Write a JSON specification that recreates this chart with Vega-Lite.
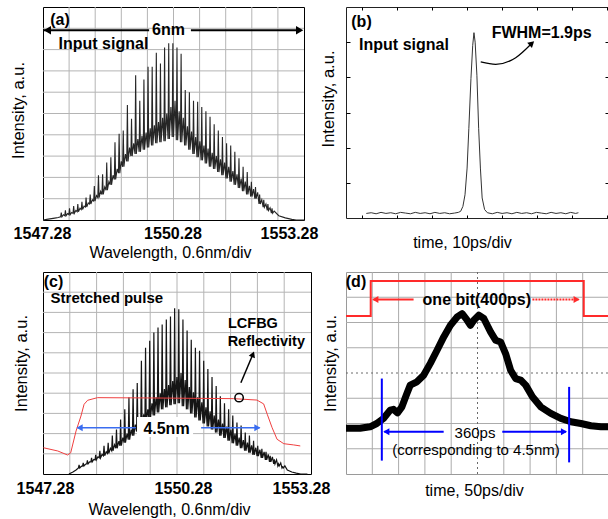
{
"$schema": "https://vega.github.io/schema/vega-lite/v6.json",
"background": "white",
"padding": {"left": 9, "top": 6, "right": 0, "bottom": 0},
"autosize": {"type": "pad"},
"config": {"font": "Liberation Sans", "view": {"stroke": null}, "axis": {"labelFont": "Liberation Sans", "titleFont": "Liberation Sans", "labelColor": "black", "titleColor": "black"}},
"datasets": {
"sa": [
{"x":1547.28,"y":0},{"x":1547.4,"y":0.04},{"x":1547.55,"y":0.09},{"x":1547.63,"y":0.12},
{"x":1547.685,"y":0.15},{"x":1547.7,"y":0.35},{"x":1547.715,"y":0.15},{"x":1547.75,"y":0.25},
{"x":1547.78,"y":0.2},{"x":1547.795,"y":0.45},{"x":1547.81,"y":0.2},{"x":1547.845,"y":0.3},
{"x":1547.875,"y":0.25},{"x":1547.89,"y":0.55},{"x":1547.905,"y":0.25},{"x":1547.94,"y":0.35},
{"x":1547.97,"y":0.31},{"x":1547.985,"y":0.65},{"x":1548.0,"y":0.31},{"x":1548.035,"y":0.45},
{"x":1548.065,"y":0.39},{"x":1548.08,"y":0.75},{"x":1548.095,"y":0.39},{"x":1548.13,"y":0.55},
{"x":1548.16,"y":0.49},{"x":1548.175,"y":0.85},{"x":1548.19,"y":0.49},{"x":1548.225,"y":0.65},
{"x":1548.255,"y":0.61},{"x":1548.27,"y":1.05},{"x":1548.285,"y":0.61},{"x":1548.32,"y":0.8},
{"x":1548.35,"y":0.75},{"x":1548.365,"y":1.2},{"x":1548.38,"y":0.75},{"x":1548.415,"y":0.95},
{"x":1548.445,"y":0.89},{"x":1548.46,"y":1.6},{"x":1548.475,"y":0.89},{"x":1548.51,"y":1.15},
{"x":1548.54,"y":1.05},{"x":1548.555,"y":2.1},{"x":1548.57,"y":1.05},{"x":1548.605,"y":1.35},
{"x":1548.635,"y":1.2},{"x":1548.65,"y":2.15},{"x":1548.665,"y":1.2},{"x":1548.7,"y":1.55},
{"x":1548.73,"y":1.4},{"x":1548.745,"y":2.7},{"x":1548.76,"y":1.4},{"x":1548.795,"y":1.8},
{"x":1548.825,"y":1.65},{"x":1548.84,"y":2.95},{"x":1548.855,"y":1.65},{"x":1548.89,"y":2.1},
{"x":1548.92,"y":1.9},{"x":1548.935,"y":3.65},{"x":1548.95,"y":1.9},{"x":1548.985,"y":2.4},
{"x":1549.015,"y":2.2},{"x":1549.03,"y":4.05},{"x":1549.045,"y":2.2},{"x":1549.08,"y":2.75},
{"x":1549.11,"y":2.5},{"x":1549.125,"y":4.2},{"x":1549.14,"y":2.5},{"x":1549.175,"y":3.1},
{"x":1549.205,"y":2.75},{"x":1549.22,"y":5.4},{"x":1549.235,"y":2.75},{"x":1549.27,"y":3.4},
{"x":1549.3,"y":3.0},{"x":1549.315,"y":4.75},{"x":1549.33,"y":3.0},{"x":1549.365,"y":3.6},
{"x":1549.395,"y":3.1},{"x":1549.41,"y":6.8},{"x":1549.425,"y":3.1},{"x":1549.46,"y":3.8},
{"x":1549.49,"y":3.2},{"x":1549.505,"y":5.6},{"x":1549.52,"y":3.2},{"x":1549.555,"y":3.95},
{"x":1549.585,"y":3.3},{"x":1549.6,"y":6.6},{"x":1549.615,"y":3.3},{"x":1549.65,"y":4.1},
{"x":1549.68,"y":3.4},{"x":1549.695,"y":7.2},{"x":1549.71,"y":3.4},{"x":1549.745,"y":4.3},
{"x":1549.775,"y":3.5},{"x":1549.79,"y":7.2},{"x":1549.805,"y":3.5},{"x":1549.84,"y":4.45},
{"x":1549.87,"y":3.6},{"x":1549.885,"y":7.85},{"x":1549.9,"y":3.6},{"x":1549.935,"y":4.6},
{"x":1549.965,"y":3.65},{"x":1549.98,"y":7.35},{"x":1549.995,"y":3.65},{"x":1550.03,"y":4.8},
{"x":1550.06,"y":3.7},{"x":1550.075,"y":8.1},{"x":1550.09,"y":3.7},{"x":1550.125,"y":5.0},
{"x":1550.155,"y":3.8},{"x":1550.17,"y":8.3},{"x":1550.185,"y":3.8},{"x":1550.22,"y":5.3},
{"x":1550.25,"y":3.9},{"x":1550.265,"y":8.3},{"x":1550.28,"y":3.9},{"x":1550.315,"y":5.6},
{"x":1550.345,"y":3.75},{"x":1550.36,"y":8.1},{"x":1550.375,"y":3.75},{"x":1550.41,"y":5.1},
{"x":1550.44,"y":3.65},{"x":1550.455,"y":7.8},{"x":1550.47,"y":3.65},{"x":1550.505,"y":4.8},
{"x":1550.535,"y":3.5},{"x":1550.55,"y":6.1},{"x":1550.565,"y":3.5},{"x":1550.6,"y":4.4},
{"x":1550.63,"y":3.3},{"x":1550.645,"y":6.0},{"x":1550.66,"y":3.3},{"x":1550.695,"y":4.15},
{"x":1550.725,"y":3.1},{"x":1550.74,"y":5.6},{"x":1550.755,"y":3.1},{"x":1550.79,"y":3.9},
{"x":1550.82,"y":2.95},{"x":1550.835,"y":5.55},{"x":1550.85,"y":2.95},{"x":1550.885,"y":3.7},
{"x":1550.915,"y":2.8},{"x":1550.93,"y":5.3},{"x":1550.945,"y":2.8},{"x":1550.98,"y":3.5},
{"x":1551.01,"y":2.65},{"x":1551.025,"y":5.1},{"x":1551.04,"y":2.65},{"x":1551.075,"y":3.35},
{"x":1551.105,"y":2.5},{"x":1551.12,"y":4.85},{"x":1551.135,"y":2.5},{"x":1551.17,"y":3.15},
{"x":1551.2,"y":2.4},{"x":1551.215,"y":4.5},{"x":1551.23,"y":2.4},{"x":1551.265,"y":3.0},
{"x":1551.295,"y":2.25},{"x":1551.31,"y":4.2},{"x":1551.325,"y":2.25},{"x":1551.36,"y":2.85},
{"x":1551.39,"y":2.1},{"x":1551.405,"y":3.9},{"x":1551.42,"y":2.1},{"x":1551.455,"y":2.7},
{"x":1551.485,"y":1.95},{"x":1551.5,"y":3.6},{"x":1551.515,"y":1.95},{"x":1551.55,"y":2.5},
{"x":1551.58,"y":1.8},{"x":1551.595,"y":3.5},{"x":1551.61,"y":1.8},{"x":1551.645,"y":2.3},
{"x":1551.675,"y":1.65},{"x":1551.69,"y":3.2},{"x":1551.705,"y":1.65},{"x":1551.74,"y":2.15},
{"x":1551.77,"y":1.5},{"x":1551.785,"y":2.9},{"x":1551.8,"y":1.5},{"x":1551.835,"y":1.95},
{"x":1551.865,"y":1.35},{"x":1551.88,"y":2.5},{"x":1551.895,"y":1.35},{"x":1551.93,"y":1.8},
{"x":1551.96,"y":1.2},{"x":1551.975,"y":2.25},{"x":1551.99,"y":1.2},{"x":1552.025,"y":1.6},
{"x":1552.055,"y":1.1},{"x":1552.07,"y":1.8},{"x":1552.085,"y":1.1},{"x":1552.12,"y":1.45},
{"x":1552.15,"y":1.0},{"x":1552.165,"y":1.55},{"x":1552.18,"y":1.0},{"x":1552.215,"y":1.3},
{"x":1552.245,"y":0.75},{"x":1552.26,"y":1.2},{"x":1552.275,"y":0.75},{"x":1552.31,"y":0.95},
{"x":1552.34,"y":0.6},{"x":1552.355,"y":0.95},{"x":1552.37,"y":0.6},{"x":1552.405,"y":0.75},
{"x":1552.435,"y":0.45},{"x":1552.45,"y":0.75},{"x":1552.465,"y":0.45},{"x":1552.5,"y":0.58},
{"x":1552.53,"y":0.32},{"x":1552.545,"y":0.55},{"x":1552.56,"y":0.32},{"x":1552.595,"y":0.42},
{"x":1552.7,"y":0.2},{"x":1552.85,"y":0.1},{"x":1553.0,"y":0.03},{"x":1553.1,"y":0},{"x":1553.28,"y":0}
],
"sc": [
{"x":1547.86,"y":0},{"x":1547.95,"y":0.1},{"x":1548.02,"y":0.2},
{"x":1548.073,"y":0.3},{"x":1548.088,"y":0.45},{"x":1548.103,"y":0.3},{"x":1548.138,"y":0.38},
{"x":1548.166,"y":0.4},{"x":1548.181,"y":0.55},{"x":1548.196,"y":0.4},{"x":1548.231,"y":0.48},
{"x":1548.259,"y":0.5},{"x":1548.274,"y":0.68},{"x":1548.289,"y":0.5},{"x":1548.324,"y":0.6},
{"x":1548.352,"y":0.6},{"x":1548.367,"y":0.8},{"x":1548.382,"y":0.6},{"x":1548.417,"y":0.72},
{"x":1548.445,"y":0.7},{"x":1548.46,"y":0.95},{"x":1548.475,"y":0.7},{"x":1548.51,"y":0.85},
{"x":1548.538,"y":0.8},{"x":1548.553,"y":1.15},{"x":1548.568,"y":0.8},{"x":1548.603,"y":0.97},
{"x":1548.631,"y":0.9},{"x":1548.646,"y":1.4},{"x":1548.661,"y":0.9},{"x":1548.696,"y":1.1},
{"x":1548.724,"y":1.02},{"x":1548.739,"y":1.55},{"x":1548.754,"y":1.02},{"x":1548.789,"y":1.27},
{"x":1548.817,"y":1.15},{"x":1548.832,"y":1.9},{"x":1548.847,"y":1.15},{"x":1548.882,"y":1.45},
{"x":1548.91,"y":1.27},{"x":1548.925,"y":2.2},{"x":1548.94,"y":1.27},{"x":1548.975,"y":1.62},
{"x":1549.003,"y":1.4},{"x":1549.018,"y":2.7},{"x":1549.033,"y":1.4},{"x":1549.068,"y":1.8},
{"x":1549.096,"y":1.55},{"x":1549.111,"y":3.2},{"x":1549.126,"y":1.55},{"x":1549.161,"y":2.0},
{"x":1549.189,"y":1.7},{"x":1549.204,"y":3.8},{"x":1549.219,"y":1.7},{"x":1549.254,"y":2.2},
{"x":1549.282,"y":1.9},{"x":1549.297,"y":4.2},{"x":1549.312,"y":1.9},{"x":1549.347,"y":2.45},
{"x":1549.375,"y":2.1},{"x":1549.39,"y":4.5},{"x":1549.405,"y":2.1},{"x":1549.44,"y":2.7},
{"x":1549.468,"y":2.3},{"x":1549.483,"y":5.6},{"x":1549.498,"y":2.3},{"x":1549.533,"y":2.95},
{"x":1549.561,"y":2.5},{"x":1549.576,"y":6.25},{"x":1549.591,"y":2.5},{"x":1549.626,"y":3.2},
{"x":1549.654,"y":2.7},{"x":1549.669,"y":6.6},{"x":1549.684,"y":2.7},{"x":1549.719,"y":3.5},
{"x":1549.747,"y":2.9},{"x":1549.762,"y":7.0},{"x":1549.777,"y":2.9},{"x":1549.812,"y":3.8},
{"x":1549.84,"y":3.05},{"x":1549.855,"y":7.25},{"x":1549.87,"y":3.05},{"x":1549.905,"y":4.0},
{"x":1549.933,"y":3.2},{"x":1549.948,"y":7.4},{"x":1549.963,"y":3.2},{"x":1549.998,"y":4.2},
{"x":1550.026,"y":3.3},{"x":1550.041,"y":7.65},{"x":1550.056,"y":3.3},{"x":1550.091,"y":4.4},
{"x":1550.119,"y":3.4},{"x":1550.134,"y":7.8},{"x":1550.149,"y":3.4},{"x":1550.184,"y":4.6},
{"x":1550.212,"y":3.45},{"x":1550.227,"y":8.2},{"x":1550.242,"y":3.45},{"x":1550.277,"y":4.8},
{"x":1550.305,"y":3.5},{"x":1550.32,"y":8.15},{"x":1550.335,"y":3.5},{"x":1550.37,"y":5.0},
{"x":1550.398,"y":3.35},{"x":1550.413,"y":7.65},{"x":1550.428,"y":3.35},{"x":1550.463,"y":4.65},
{"x":1550.491,"y":3.2},{"x":1550.506,"y":7.1},{"x":1550.521,"y":3.2},{"x":1550.556,"y":4.3},
{"x":1550.584,"y":3.0},{"x":1550.599,"y":6.65},{"x":1550.614,"y":3.0},{"x":1550.649,"y":4.05},
{"x":1550.677,"y":2.8},{"x":1550.692,"y":6.25},{"x":1550.707,"y":2.8},{"x":1550.742,"y":3.8},
{"x":1550.77,"y":2.65},{"x":1550.785,"y":6.1},{"x":1550.8,"y":2.65},{"x":1550.835,"y":3.55},
{"x":1550.863,"y":2.5},{"x":1550.878,"y":5.6},{"x":1550.893,"y":2.5},{"x":1550.928,"y":3.3},
{"x":1550.956,"y":2.35},{"x":1550.971,"y":5.2},{"x":1550.986,"y":2.35},{"x":1551.021,"y":3.1},
{"x":1551.049,"y":2.2},{"x":1551.064,"y":4.8},{"x":1551.079,"y":2.2},{"x":1551.114,"y":2.9},
{"x":1551.142,"y":2.05},{"x":1551.157,"y":4.35},{"x":1551.172,"y":2.05},{"x":1551.207,"y":2.7},
{"x":1551.235,"y":1.9},{"x":1551.25,"y":3.85},{"x":1551.265,"y":1.9},{"x":1551.3,"y":2.5},
{"x":1551.328,"y":1.78},{"x":1551.343,"y":3.5},{"x":1551.358,"y":1.78},{"x":1551.393,"y":2.35},
{"x":1551.421,"y":1.65},{"x":1551.436,"y":3.2},{"x":1551.451,"y":1.65},{"x":1551.486,"y":2.2},
{"x":1551.514,"y":1.52},{"x":1551.529,"y":2.9},{"x":1551.544,"y":1.52},{"x":1551.579,"y":2.0},
{"x":1551.607,"y":1.4},{"x":1551.622,"y":2.55},{"x":1551.637,"y":1.4},{"x":1551.672,"y":1.8},
{"x":1551.7,"y":1.28},{"x":1551.715,"y":2.4},{"x":1551.73,"y":1.28},{"x":1551.765,"y":1.68},
{"x":1551.793,"y":1.15},{"x":1551.808,"y":2.05},{"x":1551.823,"y":1.15},{"x":1551.858,"y":1.55},
{"x":1551.886,"y":1.05},{"x":1551.901,"y":1.9},{"x":1551.916,"y":1.05},{"x":1551.951,"y":1.42},
{"x":1551.979,"y":0.95},{"x":1551.994,"y":1.65},{"x":1552.009,"y":0.95},{"x":1552.044,"y":1.3},
{"x":1552.072,"y":0.88},{"x":1552.087,"y":1.4},{"x":1552.102,"y":0.88},{"x":1552.137,"y":1.2},
{"x":1552.165,"y":0.8},{"x":1552.18,"y":1.25},{"x":1552.195,"y":0.8},{"x":1552.23,"y":1.1},
{"x":1552.258,"y":0.7},{"x":1552.273,"y":1.1},{"x":1552.288,"y":0.7},{"x":1552.323,"y":0.97},
{"x":1552.351,"y":0.6},{"x":1552.366,"y":0.9},{"x":1552.381,"y":0.6},{"x":1552.416,"y":0.85},
{"x":1552.444,"y":0.5},{"x":1552.459,"y":0.72},{"x":1552.474,"y":0.5},{"x":1552.509,"y":0.7},
{"x":1552.537,"y":0.4},{"x":1552.552,"y":0.5},{"x":1552.567,"y":0.4},{"x":1552.602,"y":0.55},
{"x":1552.63,"y":0.3},{"x":1552.645,"y":0.35},{"x":1552.66,"y":0.3},{"x":1552.695,"y":0.4},
{"x":1552.75,"y":0.2},{"x":1552.85,"y":0.1},{"x":1552.95,"y":0.04},{"x":1553.05,"y":0},{"x":1553.2,"y":0}
],
"rc": [
{"x":1547.29,"y":1.3},{"x":1547.61,"y":1.14},{"x":1547.83,"y":0.94},{"x":1547.9,"y":1.05},{"x":1548.02,"y":2.13},{"x":1548.13,"y":2.87},{"x":1548.2,"y":3.45},{"x":1548.28,"y":3.65},{"x":1548.5,"y":3.78},{"x":1549.97,"y":3.76},{"x":1551.55,"y":3.73},{"x":1552.07,"y":3.66},{"x":1552.22,"y":3.47},{"x":1552.3,"y":2.96},{"x":1552.41,"y":2.29},{"x":1552.52,"y":1.72},{"x":1552.67,"y":1.5},{"x":1552.89,"y":1.44},{"x":1553.04,"y":1.39}
],
"gridW": [
{"x":1547.88,"x2":1547.88,"y":0,"y2":10},{"x":1548.48,"x2":1548.48,"y":0,"y2":10},{"x":1549.08,"x2":1549.08,"y":0,"y2":10},{"x":1549.68,"x2":1549.68,"y":0,"y2":10},{"x":1550.28,"x2":1550.28,"y":0,"y2":10},{"x":1550.88,"x2":1550.88,"y":0,"y2":10},{"x":1551.48,"x2":1551.48,"y":0,"y2":10},{"x":1552.08,"x2":1552.08,"y":0,"y2":10},{"x":1552.68,"x2":1552.68,"y":0,"y2":10},
{"x":1547.28,"x2":1553.28,"y":1,"y2":1},{"x":1547.28,"x2":1553.28,"y":2,"y2":2},{"x":1547.28,"x2":1553.28,"y":3,"y2":3},{"x":1547.28,"x2":1553.28,"y":4,"y2":4},{"x":1547.28,"x2":1553.28,"y":5,"y2":5},{"x":1547.28,"x2":1553.28,"y":6,"y2":6},{"x":1547.28,"x2":1553.28,"y":7,"y2":7},{"x":1547.28,"x2":1553.28,"y":8,"y2":8},{"x":1547.28,"x2":1553.28,"y":9,"y2":9}
],
"gridT": [
{"x":50,"x2":50,"y":0,"y2":8},{"x":100,"x2":100,"y":0,"y2":8},{"x":150,"x2":150,"y":0,"y2":8},{"x":200,"x2":200,"y":0,"y2":8},{"x":300,"x2":300,"y":0,"y2":8},{"x":350,"x2":350,"y":0,"y2":8},{"x":400,"x2":400,"y":0,"y2":8},{"x":450,"x2":450,"y":0,"y2":8},
{"x":0,"x2":500,"y":1,"y2":1},{"x":0,"x2":500,"y":2,"y2":2},{"x":0,"x2":500,"y":3,"y2":3},{"x":0,"x2":500,"y":5,"y2":5},{"x":0,"x2":500,"y":6,"y2":6},{"x":0,"x2":500,"y":7,"y2":7}
],
"pb": [
{"x":1.1,"y":0.13},{"x":2.5,"y":0.15},{"x":3.9,"y":0.12},{"x":5.3,"y":0.16},{"x":6.7,"y":0.13},{"x":8.1,"y":0.15},{"x":9.5,"y":0.12},{"x":10.9,"y":0.16},{"x":12.3,"y":0.14},{"x":13.7,"y":0.12},{"x":15.1,"y":0.16},{"x":16.5,"y":0.13},{"x":17.9,"y":0.15},{"x":19.3,"y":0.12},{"x":20.7,"y":0.16},{"x":22.1,"y":0.13},{"x":23.5,"y":0.15},{"x":24.9,"y":0.12},{"x":26.3,"y":0.14},{"x":27.4,"y":0.16},
{"x":28.05,"y":0.19},{"x":28.7,"y":0.33},{"x":29.3,"y":0.66},{"x":29.9,"y":1.42},{"x":30.4,"y":2.55},{"x":31.0,"y":3.97},{"x":31.5,"y":4.91},{"x":31.86,"y":5.27},{"x":32.2,"y":5.0},{"x":32.7,"y":4.06},{"x":33.2,"y":2.55},{"x":33.7,"y":1.42},{"x":34.2,"y":0.57},{"x":34.9,"y":0.24},{"x":35.7,"y":0.15},
{"x":37.1,"y":0.12},{"x":38.5,"y":0.16},{"x":39.9,"y":0.13},{"x":41.3,"y":0.15},{"x":42.7,"y":0.12},{"x":44.1,"y":0.16},{"x":45.5,"y":0.13},{"x":46.9,"y":0.15},{"x":48.3,"y":0.12},{"x":49.7,"y":0.16},{"x":51.1,"y":0.14},{"x":52.5,"y":0.12},{"x":53.9,"y":0.16},{"x":55.3,"y":0.13},{"x":56.7,"y":0.15},{"x":58.1,"y":0.12},{"x":59.5,"y":0.16},{"x":60.9,"y":0.13},{"x":61.7,"y":0.15}
],
"td": [
{"x":0,"y":1.81},{"x":26.7,"y":1.81},{"x":45.8,"y":1.87},{"x":58.5,"y":2.0},{"x":71.2,"y":2.2},{"x":84,"y":2.53},{"x":90.3,"y":2.56},{"x":97.9,"y":2.42},{"x":106.3,"y":2.66},{"x":115.8,"y":3.19},{"x":122.1,"y":3.52},{"x":134.9,"y":3.65},{"x":147.6,"y":3.91},{"x":160.3,"y":4.38},{"x":173.1,"y":4.9},{"x":185.8,"y":5.43},{"x":198.5,"y":5.89},{"x":211.3,"y":6.22},{"x":220.8,"y":6.35},{"x":230.3,"y":6.09},{"x":236.6,"y":5.89},{"x":243,"y":6.09},{"x":252.5,"y":6.29},{"x":262,"y":6.16},{"x":274.8,"y":5.63},{"x":284.4,"y":5.3},{"x":293.9,"y":5.23},{"x":303.4,"y":4.77},{"x":313,"y":4.11},{"x":322.5,"y":3.78},{"x":332,"y":3.72},{"x":341.6,"y":3.52},{"x":354.4,"y":3.06},{"x":370.2,"y":2.66},{"x":389.3,"y":2.4},{"x":408.4,"y":2.2},{"x":427.5,"y":2.07},{"x":446.6,"y":2.0},{"x":465.6,"y":1.91},{"x":484.7,"y":1.87},{"x":500,"y":1.87}
],
"sd": [
{"x":0,"y":6.26},{"x":47,"y":7.64},{"x":452,"y":6.26},{"x":500,"y":6.26}
]
},
"columns": 2,
"spacing": {"row": 52, "column": 35},
"bounds": "flush",
"concat": [
{
"width": 261, "height": 213,
"view": {"stroke": "black", "strokeWidth": 1},
"encoding": {
"x": {"field": "x", "type": "quantitative", "scale": {"domain": [1547.28, 1553.28], "nice": false, "zero": false},
 "axis": {"values": [1547.28,1550.28,1553.28], "format": ".2f",
  "labelFontSize": 16, "labelFontWeight": "bold", "labelPadding": 5, "labelFlush": false, "labelOverlap": false, "labelBound": false,
  "labelOffset": {"condition": {"test": "datum.value>1553", "value": -15}, "value": -1},
  "ticks": false, "domain": false, "grid": false,
  "title": "Wavelength, 0.6nm/div", "titleFontSize": 16, "titleFontWeight": "normal", "titleX": 127, "titleY": 37, "titleBaseline": "alphabetic", "titleAlign": "center"}},
"y": {"field": "y", "type": "quantitative", "scale": {"domain": [0, 10], "nice": false},
 "axis": {"labels": false, "ticks": false, "domain": false, "grid": false,
  "title": "Intensity, a.u.", "titleFontSize": 16.5, "titleFontWeight": "normal", "titleX": -20, "titleY": 103, "titleAngle": 270, "titleBaseline": "alphabetic", "titleAlign": "center"}}
},
"layer": [
{"data": {"name": "gridW"}, "mark": {"type": "rule", "color": "#b4b4b4", "strokeWidth": 1}, "encoding": {"x2": {"field": "x2"}, "y2": {"field": "y2"}}},
{"data": {"name": "sa"}, "mark": {"type": "line", "color": "#262626", "strokeWidth": 1.1}},
{"data": {"values": [{"x":1547.3,"x2":1549.72,"y":8.91,"y2":8.91},{"x":1550.68,"x2":1553.2,"y":8.91,"y2":8.91}]}, "mark": {"type": "rule", "color": "black", "strokeWidth": 2}, "encoding": {"x2": {"field": "x2"}, "y2": {"field": "y2"}}},
{"data": {"values": [{"x":1547.38,"y":8.91}]}, "mark": {"type": "point", "shape": "triangle-left", "filled": true, "color": "black", "opacity": 1, "size": 70}},
{"data": {"values": [{"x":1553.18,"y":8.91}]}, "mark": {"type": "point", "shape": "triangle-right", "filled": true, "color": "black", "opacity": 1, "size": 70}},
{"data": {"values": [{"x":1547.67,"y":9.39,"t":"(a)"},{"x":1550.165,"y":8.92,"t":"6nm"},{"x":1548.67,"y":8.24,"t":"Input signal"}]}, "mark": {"type": "text", "font": "Liberation Sans", "fontSize": 16, "fontWeight": "bold", "color": "black", "align": "center", "baseline": "middle"}, "encoding": {"text": {"field": "t"}}}
]
},
{
"width": 263, "height": 211,
"view": {"stroke": "#222", "strokeWidth": 1},
"resolve": {"axis": {"x": "independent", "y": "independent"}},
"layer": [
{"data": {"name": "pb"}, "mark": {"type": "line", "color": "#333", "strokeWidth": 1},
 "encoding": {
 "x": {"field": "x", "type": "quantitative", "scale": {"domain": [-4.7, 70.44], "nice": false, "zero": false},
  "axis": {"orient": "bottom", "values": [0,10,20,30,40,50,60,70], "labels": false, "ticks": true, "tickSize": -3, "tickColor": "black", "domain": false, "grid": false,
   "title": "time, 10ps/div", "titleFontSize": 16, "titleFontWeight": "normal", "titleX": 116, "titleY": 29.5, "titleBaseline": "alphabetic", "titleAlign": "center"}},
 "y": {"field": "y", "type": "quantitative", "scale": {"domain": [0, 6], "nice": false},
  "axis": {"orient": "left", "values": [1,2,3,4,5], "labels": false, "ticks": true, "tickSize": -4, "tickColor": "black", "domain": false, "grid": false,
   "title": "Intensity, a.u.", "titleFontSize": 16.5, "titleFontWeight": "normal", "titleX": -13, "titleY": 91.5, "titleAngle": 270, "titleBaseline": "alphabetic", "titleAlign": "center"}}
 }},
{"data": {"values": [{"x":33.79,"y":4.44},{"x":38.07,"y":4.37},{"x":43.79,"y":4.56},{"x":48.4,"y":4.97}]}, "mark": {"type": "line", "interpolate": "monotone", "color": "black", "strokeWidth": 1.2},
 "encoding": {
 "x": {"field": "x", "type": "quantitative", "scale": {"domain": [-4.7, 70.44], "nice": false, "zero": false},
  "axis": {"orient": "top", "values": [0,10,20,30,40,50,60,70], "labels": false, "ticks": true, "tickSize": -3, "tickColor": "black", "domain": false, "grid": false, "title": null}},
 "y": {"field": "y", "type": "quantitative", "scale": {"domain": [0, 6], "nice": false},
  "axis": {"orient": "right", "values": [1,2,3,4,5], "labels": false, "ticks": true, "tickSize": -4, "tickColor": "black", "domain": false, "grid": false, "title": null}}
 }},
{"data": {"values": [{"x":48.4,"y":4.97}]}, "mark": {"type": "point", "shape": "triangle-up", "angle": 48, "filled": true, "color": "black", "opacity": 1, "size": 50},
 "encoding": {"x": {"field": "x", "type": "quantitative", "scale": {"domain": [-4.7, 70.44], "nice": false, "zero": false}, "axis": null}, "y": {"field": "y", "type": "quantitative", "scale": {"domain": [0, 6], "nice": false}, "axis": null}}},
{"data": {"values": [{"x":-0.27,"y":5.57,"t":"(b)"},{"x":11.87,"y":4.92,"t":"Input signal"},{"x":51.2,"y":5.26,"t":"FWHM=1.9ps"}]}, "mark": {"type": "text", "font": "Liberation Sans", "fontSize": 16, "fontWeight": "bold", "color": "black", "align": "center", "baseline": "middle"},
 "encoding": {"x": {"field": "x", "type": "quantitative", "scale": {"domain": [-4.7, 70.44], "nice": false, "zero": false}, "axis": null}, "y": {"field": "y", "type": "quantitative", "scale": {"domain": [0, 6], "nice": false}, "axis": null}, "text": {"field": "t"}}}
]
},
{
"width": 268, "height": 202,
"view": {"stroke": "black", "strokeWidth": 1},
"encoding": {
"x": {"field": "x", "type": "quantitative", "scale": {"domain": [1547.28, 1553.28], "nice": false, "zero": false},
 "axis": {"values": [1547.28,1550.28,1553.28], "format": ".2f",
  "labelFontSize": 16, "labelFontWeight": "bold", "labelPadding": 6, "labelFlush": false, "labelOverlap": false, "labelBound": false,
  "labelOffset": {"condition": [{"test": "datum.value>1553", "value": -10}, {"test": "datum.value>1550&&datum.value<1551", "value": 6}], "value": 2},
  "ticks": false, "domain": false, "grid": false,
  "title": "Wavelength, 0.6nm/div", "titleFontSize": 16, "titleFontWeight": "normal", "titleX": 126, "titleY": 40, "titleBaseline": "alphabetic", "titleAlign": "center"}},
"y": {"field": "y", "type": "quantitative", "scale": {"domain": [0, 10], "nice": false},
 "axis": {"labels": false, "ticks": false, "domain": false, "grid": false,
  "title": "Intensity, a.u.", "titleFontSize": 16.5, "titleFontWeight": "normal", "titleX": -16.5, "titleY": 91, "titleAngle": 270, "titleBaseline": "alphabetic", "titleAlign": "center"}}
},
"layer": [
{"data": {"name": "gridW"}, "mark": {"type": "rule", "color": "#b4b4b4", "strokeWidth": 1}, "encoding": {"x2": {"field": "x2"}, "y2": {"field": "y2"}}},
{"data": {"name": "sc"}, "mark": {"type": "line", "color": "#151515", "strokeWidth": 1.2}},
{"data": {"name": "rc"}, "mark": {"type": "line", "color": "#f04040", "strokeWidth": 1}},
{"data": {"values": [{"x":1549.385,"x2":1550.64,"y":1.83,"y2":2.82}]}, "mark": {"type": "rect", "color": "white", "opacity": 1}, "encoding": {"x2": {"field": "x2"}, "y2": {"field": "y2"}}},
{"data": {"values": [{"x":1548.05,"x2":1549.36,"y":2.29,"y2":2.29},{"x":1550.82,"x2":1552.13,"y":2.29,"y2":2.29}]}, "mark": {"type": "rule", "color": "#3a6df0", "strokeWidth": 1.5}, "encoding": {"x2": {"field": "x2"}, "y2": {"field": "y2"}}},
{"data": {"values": [{"x":1548.1,"y":2.29}]}, "mark": {"type": "point", "shape": "triangle-left", "filled": true, "color": "#3a6df0", "opacity": 1, "size": 50}},
{"data": {"values": [{"x":1552.08,"y":2.29}]}, "mark": {"type": "point", "shape": "triangle-right", "filled": true, "color": "#3a6df0", "opacity": 1, "size": 50}},
{"data": {"values": [{"x":1551.71,"x2":1551.98,"y":4.52,"y2":5.93}]}, "mark": {"type": "rule", "color": "black", "strokeWidth": 1.5}, "encoding": {"x2": {"field": "x2"}, "y2": {"field": "y2"}}},
{"data": {"values": [{"x":1551.98,"y":5.93}]}, "mark": {"type": "point", "shape": "triangle-up", "angle": 22, "filled": true, "color": "black", "opacity": 1, "size": 45}},
{"data": {"values": [{"x":1551.67,"y":3.78}]}, "mark": {"type": "point", "shape": "circle", "filled": false, "color": "black", "opacity": 1, "strokeWidth": 1.5, "size": 70}},
{"data": {"values": [{"x":1547.515,"y":9.5,"t":"(c)"},{"x":1550.045,"y":2.23,"t":"4.5nm"}]}, "mark": {"type": "text", "font": "Liberation Sans", "fontSize": 16, "fontWeight": "bold", "color": "black", "align": "center", "baseline": "middle"}, "encoding": {"text": {"field": "t"}}},
{"data": {"values": [{"x":1548.71,"y":8.69,"t":"Stretched pulse"}]}, "mark": {"type": "text", "font": "Liberation Sans", "fontSize": 15, "fontWeight": "bold", "color": "black", "align": "center", "baseline": "middle"}, "encoding": {"text": {"field": "t"}}},
{"data": {"values": [{"x":1551.98,"y":7.45,"t":"LCFBG"},{"x":1552.28,"y":6.53,"t":"Reflectivity"}]}, "mark": {"type": "text", "font": "Liberation Sans", "fontSize": 14.5, "fontWeight": "bold", "color": "black", "align": "center", "baseline": "middle"}, "encoding": {"text": {"field": "t"}}}
]
},
{
"width": 263, "height": 202,
"view": {"stroke": "#9a9a9a", "strokeWidth": 1},
"encoding": {
"x": {"field": "x", "type": "quantitative", "scale": {"domain": [0, 500], "nice": false, "zero": false},
 "axis": {"labels": false, "ticks": false, "domain": false, "grid": false,
  "title": "time, 50ps/div", "titleFontSize": 16, "titleFontWeight": "normal", "titleX": 128, "titleY": 21, "titleBaseline": "alphabetic", "titleAlign": "center"}},
"y": {"field": "y", "type": "quantitative", "scale": {"domain": [0, 8], "nice": false},
 "axis": {"labels": false, "ticks": false, "domain": false, "grid": false,
  "title": "Intensity, a.u.", "titleFontSize": 16.5, "titleFontWeight": "normal", "titleX": -11, "titleY": 91, "titleAngle": 270, "titleBaseline": "alphabetic", "titleAlign": "center"}}
},
"layer": [
{"data": {"name": "gridT"}, "mark": {"type": "rule", "color": "#ababab", "strokeWidth": 1}, "encoding": {"x2": {"field": "x2"}, "y2": {"field": "y2"}}},
{"data": {"values": [{"x":250,"x2":250,"y":0,"y2":8},{"x":0,"x2":500,"y":4,"y2":4}]}, "mark": {"type": "rule", "color": "#6a6a6a", "strokeWidth": 1, "strokeDash": [2, 3]}, "encoding": {"x2": {"field": "x2"}, "y2": {"field": "y2"}}},
{"data": {"name": "sd"}, "mark": {"type": "line", "interpolate": "step-after", "color": "#ff2a2a", "strokeWidth": 2}},
{"data": {"name": "td"}, "mark": {"type": "line", "color": "black", "strokeWidth": 7, "strokeJoin": "round"}},
{"data": {"values": [{"x":52,"x2":128.5,"y":6.91,"y2":6.91}]}, "mark": {"type": "rule", "color": "#ff2a2a", "strokeWidth": 2}, "encoding": {"x2": {"field": "x2"}, "y2": {"field": "y2"}}},
{"data": {"values": [{"x":354.4,"x2":442,"y":6.91,"y2":6.91}]}, "mark": {"type": "rule", "color": "#ff2a2a", "strokeWidth": 2, "strokeDash": [2, 1]}, "encoding": {"x2": {"field": "x2"}, "y2": {"field": "y2"}}},
{"data": {"values": [{"x":55.7,"y":6.91}]}, "mark": {"type": "point", "shape": "triangle-left", "filled": true, "color": "#ff2a2a", "opacity": 1, "size": 50}},
{"data": {"values": [{"x":438.5,"y":6.91}]}, "mark": {"type": "point", "shape": "triangle-right", "filled": true, "color": "#ff2a2a", "opacity": 1, "size": 50}},
{"data": {"values": [{"x":68.1,"x2":68.1,"y":0.53,"y2":3.78},{"x":424.2,"x2":424.2,"y":0.46,"y2":3.45},{"x":73,"x2":185.7,"y":1.67,"y2":1.67},{"x":297.1,"x2":418,"y":1.67,"y2":1.67}]}, "mark": {"type": "rule", "color": "#0000ff", "strokeWidth": 2}, "encoding": {"x2": {"field": "x2"}, "y2": {"field": "y2"}}},
{"data": {"values": [{"x":76.7,"y":1.67}]}, "mark": {"type": "point", "shape": "triangle-left", "filled": true, "color": "#0000ff", "opacity": 1, "size": 50}},
{"data": {"values": [{"x":414.5,"y":1.67}]}, "mark": {"type": "point", "shape": "triangle-right", "filled": true, "color": "#0000ff", "opacity": 1, "size": 50}},
{"data": {"values": [{"x":19,"y":7.6,"t":"(d)"},{"x":248.7,"y":6.89,"t":"one bit(400ps)"}]}, "mark": {"type": "text", "font": "Liberation Sans", "fontSize": 16, "fontWeight": "bold", "color": "black", "align": "center", "baseline": "middle"}, "encoding": {"text": {"field": "t"}}},
{"data": {"values": [{"x":245.2,"y":1.64,"t":"360ps"},{"x":247.1,"y":0.95,"t":"(corresponding to 4.5nm)"}]}, "mark": {"type": "text", "font": "Liberation Sans", "fontSize": 15, "fontWeight": "normal", "color": "black", "align": "center", "baseline": "middle"}, "encoding": {"text": {"field": "t"}}}
]
}
]
}
